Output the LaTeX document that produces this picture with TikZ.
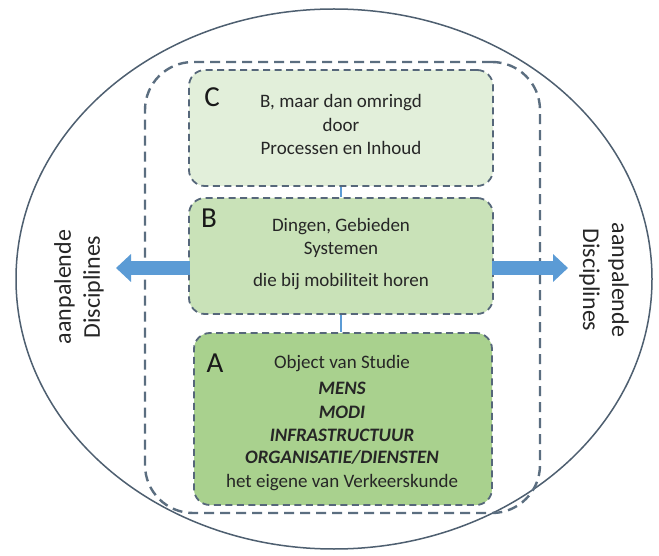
\documentclass[tikz,border=0pt]{standalone}
\usepackage{fontspec}
\setmainfont{Carlito}
\usetikzlibrary{arrows.meta}
\definecolor{ringcol}{HTML}{4E5F70}
\definecolor{framecol}{HTML}{5B6E80}
\definecolor{boxline}{HTML}{56677A}
\definecolor{fillC}{HTML}{E2EFDA}
\definecolor{fillB}{HTML}{C9E2B8}
\definecolor{fillA}{HTML}{A9D18E}
\definecolor{arrblue}{HTML}{5B9BD5}
\tikzset{
  boxstyle/.style={draw=boxline, line width=1.8pt, dash pattern=on 7pt off 4.5pt,
    rounded corners=16pt, inner sep=0pt, rectangle},
  framestyle/.style={draw=framecol, line width=2.4pt, dash pattern=on 10pt off 6pt,
    rounded corners=48pt, inner sep=0pt, rectangle},
  txt/.style={font=\fontsize{19}{23}\selectfont, text=black!85, inner sep=0pt, anchor=base},
  btxt/.style={txt, font=\fontsize{19}{23}\selectfont\bfseries\itshape},
  letter/.style={font=\fontsize{29}{32}\selectfont, text=black!90, inner sep=0pt},
  side/.style={font=\fontsize{24}{29}\selectfont, text=black!85, align=center, inner sep=0pt},
  link/.style={draw=arrblue, line width=1.6pt},
  bigarrow/.style={draw=arrblue, line width=14pt, -{Triangle[length=15pt,width=27pt]}}
}
\begin{document}
\begin{tikzpicture}[x=1pt,y=-1pt]
\useasboundingbox (0,0) rectangle (659,556);
\fill[white] (0,0) rectangle (659,556);
% outer ellipse
\draw[ringcol, line width=1.5pt] (334,279) ellipse [x radius=318pt, y radius=270pt];
% dashed frame
\node[framestyle, minimum width=395pt, minimum height=451pt] (frame) at (342.5,287.5) {};
% boxes
\node[boxstyle, fill=fillC, minimum width=304pt, minimum height=116pt] (C) at (341,128) {};
\node[boxstyle, fill=fillB, minimum width=304pt, minimum height=116pt] (B) at (341,256) {};
\node[boxstyle, fill=fillA, minimum width=298pt, minimum height=172pt] (A) at (343,419) {};
% links
\draw[link] (C.south) -- (B.north);
\draw[link] (B.south) -- (B.south |- A.north);
% arrows
\coordinate (Ls) at (190,268);
\coordinate (Lt) at (116,268);
\coordinate (Rs) at (492,268);
\coordinate (Rt) at (568,268);
\draw[bigarrow] (Ls) -- (Lt);
\draw[bigarrow] (Rs) -- (Rt);
% letters
\node[letter] (lC) at (212,97) {C};
\node[letter] (lB) at (209,218) {B};
\node[letter] (lA) at (215,363) {A};
% C text
\node[txt] (c1) at (341,108) {B, maar dan omringd};
\node[txt] (c2) at (341,132) {door};
\node[txt] (c3) at (341,155) {Processen en Inhoud};
% B text
\node[txt] (b1) at (341,232) {Dingen, Gebieden};
\node[txt] (b2) at (341,255) {Systemen};
\node[txt] (b3) at (341,287) {die bij mobiliteit horen};
% A text
\node[txt] (a1) at (342,368) {Object van Studie};
\node[btxt] (a2) at (342,394) {MENS};
\node[btxt] (a3) at (342,418) {MODI};
\node[btxt] (a4) at (342,441) {INFRASTRUCTUUR};
\node[btxt] (a5) at (342,463) {ORGANISATIE/DIENSTEN};
\node[txt] (a6) at (342,487) {het eigene van Verkeerskunde};
% side texts
\node[side, rotate=90] (sl) at (79,287) {aanpalende\\Disciplines};
\node[side, rotate=-90] (sr) at (604,280) {aanpalende\\Disciplines};
\end{tikzpicture}
\end{document}
